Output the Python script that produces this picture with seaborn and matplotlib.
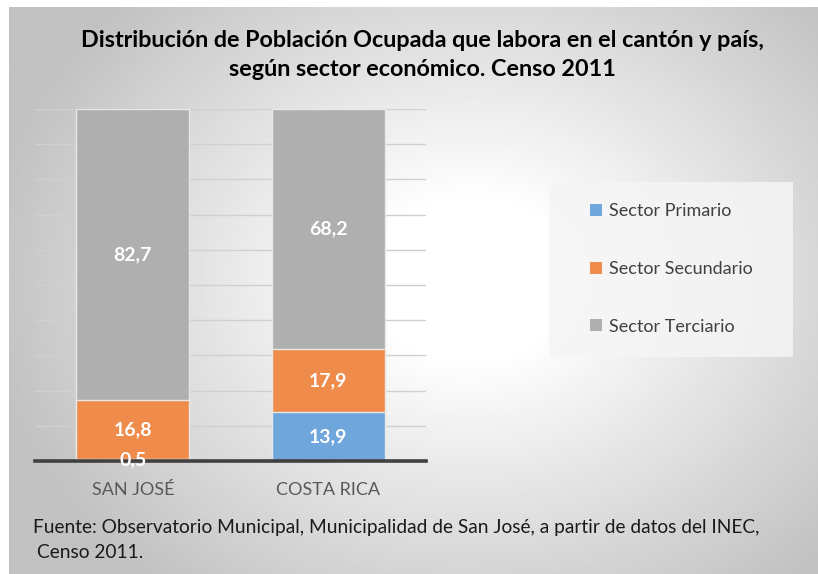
import numpy as np
import pandas as pd
import seaborn as sns
import matplotlib.pyplot as plt
from matplotlib.patches import Patch, Rectangle

# data (percent of employed population)
categories = ['SAN JOSÉ', 'COSTA RICA']
sectors = ['Sector Primario', 'Sector Secundario', 'Sector Terciario']
primario = [0.5, 13.9]
secundario = [16.8, 17.9]
terciario = [82.7, 68.2]

colors = ['#6fa6db', '#ef8c4b', '#afafaf']

sns.set_theme(style='white')
plt.rcParams['font.family'] = ['Lato', 'DejaVu Sans']

df = pd.DataFrame({'cat': categories, 'p': primario, 's': secundario, 't': terciario})
df['ps'] = df['p'] + df['s']
df['pst'] = df['ps'] + df['t']

fig = plt.figure(figsize=(8.18, 5.74), dpi=100)

# radial gradient background of the chart area
bg = fig.add_axes([9 / 818, 0, 809 / 818, 567 / 574], zorder=-10)
xx, yy = np.meshgrid(np.linspace(0, 1, 400), np.linspace(0, 1, 300))
d = np.sqrt(((xx - 0.57) / 0.6) ** 2 + ((yy - 0.52) / 0.7) ** 2)
val = 1 - 0.24 * np.clip((d - 0.2) / 0.8, 0, 1)
bg.imshow(val, cmap='gray', vmin=0, vmax=1, extent=[0, 1, 0, 1], aspect='auto', origin='lower')
bg.set_axis_off()

ax = fig.add_axes([35 / 818, 1 - 461 / 574, 391 / 818, 352 / 574])
ax.patch.set_alpha(0)

# stacked bars drawn as cumulative totals, tallest first
for col, c in zip(['pst', 'ps', 'p'], colors[::-1]):
    sns.barplot(data=df, x='cat', y=col, color=c, width=0.58, ax=ax,
                edgecolor='#e8e8e8', linewidth=1, saturation=1, zorder=3)

ax.set_ylim(0, 100)
ax.set_xlim(-0.5, 1.5)
ax.set_yticks(np.arange(0, 101, 10))
ax.set_yticklabels([])
ax.grid(axis='y', color='#d0d0d0', lw=1, zorder=0)
ax.set_axisbelow(True)
for s in ['top', 'right', 'left']:
    ax.spines[s].set_visible(False)
ax.spines['bottom'].set_color('#404040')
ax.spines['bottom'].set_linewidth(2.6)
ax.spines['bottom'].set_zorder(4)
ax.tick_params(axis='x', length=0, pad=15, labelsize=13, labelcolor='#595959')
ax.tick_params(axis='y', length=0)
ax.set_xlabel('')
ax.set_ylabel('')

# value labels
for i in range(len(categories)):
    base = 0
    for v in [primario[i], secundario[i], terciario[i]]:
        ax.text(i, base + v / 2, f'{v:.1f}'.replace('.', ','), ha='center', va='center',
                color='white', fontsize=14, fontweight='bold', zorder=5)
        base += v

fig.text(0.517, 1 - 55 / 574,
         'Distribución de Población Ocupada que labora en el cantón y país,\nsegún sector económico. Censo 2011',
         ha='center', va='center', fontsize=16.8, fontweight='bold', color='black', linespacing=1.42)

# legend
fig.patches.append(Rectangle((549 / 818, 1 - 357 / 574), 244 / 818, 175 / 574,
                             transform=fig.transFigure, facecolor='#f5f5f5', alpha=0.85,
                             edgecolor='none', zorder=1))
handles = [Patch(facecolor=c, edgecolor='none', label=l) for c, l in zip(colors, sectors)]
leg = fig.legend(handles=handles, loc='center left', bbox_to_anchor=(574 / 818, 1 - 269 / 574),
                 frameon=False, fontsize=13, labelspacing=2.3, handlelength=0.65,
                 handleheight=0.65, handletextpad=0.4, labelcolor='#404040')

fig.text(33 / 818, 1 - 527 / 574,
         'Fuente: Observatorio Municipal, Municipalidad de San José, a partir de datos del INEC,',
         ha='left', va='center', fontsize=13.8, color='#1a1a1a')
fig.text(37 / 818, 1 - 553 / 574, 'Censo 2011.', ha='left', va='center', fontsize=13.8, color='#1a1a1a')

fig.savefig('out.png', dpi=100)
